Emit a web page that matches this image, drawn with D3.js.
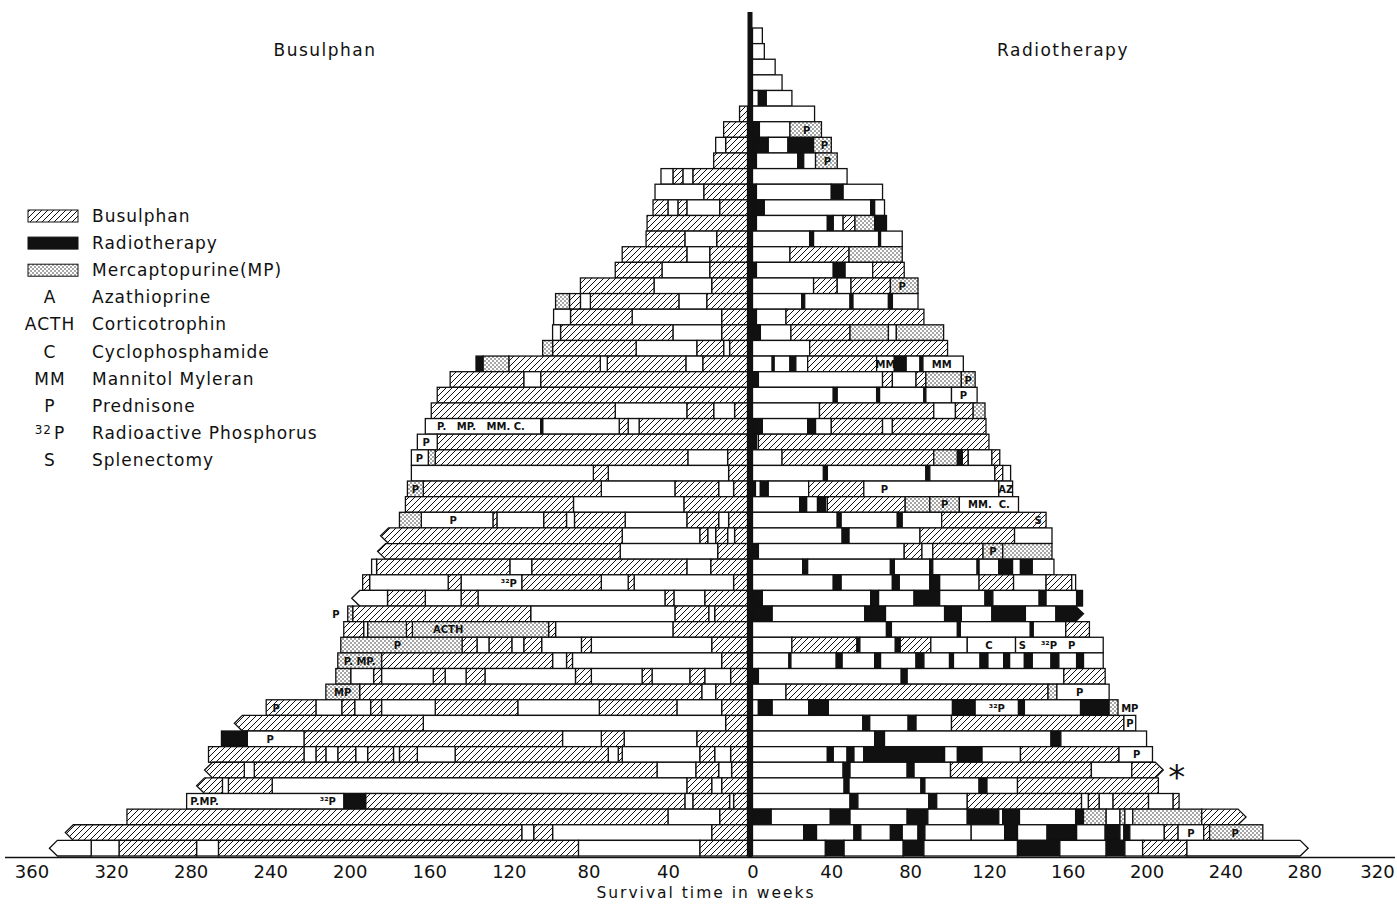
<!DOCTYPE html>
<html><head><meta charset="utf-8">
<script src="https://cdn.jsdelivr.net/npm/d3@7"></script>
<style>body{margin:0;background:#fff}svg{display:block}</style>
</head><body><svg id="c" width="1397" height="904"></svg>
<script>
const rowCount = 53;
const rightTicks = [0,40,80,120,160,200,240,280,320];
const leftTicks = [40,80,120,160,200,240,280,320,360];
// segment types: B busulphan, R radiotherapy, M mercaptopurine, W untreated; [type, end week]
const rightRows = [
 [["W",5]],
 [["W",6]],
 [["W",11.5]],
 [["W",15]],
 [["W",3],["R",7],["W",20]],
 [["W",31.5]],
 [["R",3.5],["W",19],["M",35]],
 [["R",8],["W",18],["R",31],["M",40]],
 [["R",2],["W",23],["R",26],["W",32],["M",43]],
 [["W",48]],
 [["R",2],["W",40],["R",46],["W",66]],
 [["R",6],["W",60],["R",62],["W",67]],
 [["R",2],["W",38],["R",41],["W",46],["B",52],["M",62],["R",68]],
 [["W",29],["R",31],["W",64],["R",65],["W",76]],
 [["W",19],["B",49],["M",76]],
 [["R",2],["W",41],["R",47],["W",61],["B",77]],
 [["W",31],["B",43],["W",50],["B",70],["M",84]],
 [["W",25],["R",26.5],["W",49.5],["R",51],["W",69],["R",71],["W",84]],
 [["R",2],["W",17],["B",87]],
 [["R",4],["W",19.5],["B",49.5],["M",69],["W",73],["M",97]],
 [["W",29],["B",99]],
 [["W",10],["R",11],["W",19],["R",22],["W",28],["B",63],["W",72],["R",78],["W",85],["R",86.5],["W",107]],
 [["R",3],["W",66],["B",71],["W",83],["B",88],["M",106],["M",113]],
 [["W",41],["R",43],["W",63],["R",64.5],["W",87],["R",88],["W",101],["W",114]],
 [["W",34],["B",92],["W",103],["B",112],["M",118]],
 [["R",5],["W",28],["R",32],["W",40],["B",66],["W",71],["B",118.5]],
 [["R",2],["W",3],["B",120]],
 [["W",15],["B",92],["M",104],["R",106.5],["B",109.5],["W",121.5],["B",125.5]],
 [["W",36],["R",38],["W",88],["R",90],["W",123],["B",127],["W",131]],
 [["R",1.5],["W",4],["R",8],["W",28.5],["B",56.5],["W",125],["W",132]],
 [["W",24],["R",27.5],["W",33],["R",37],["W",38],["B",77.5],["M",90],["M",105],["W",135]],
 [["W",43],["R",45],["W",73.5],["R",76],["W",96],["B",149]],
 [["W",45.5],["R",49],["W",85],["B",133],["W",152]],
 [["R",3],["W",77],["B",86],["W",91.5],["B",117],["M",127],["M",152]],
 [["W",25.5],["R",28],["W",70],["R",72],["W",90],["R",91.5],["W",114],["R",115],["W",125],["R",132],["W",136],["R",142],["W",153]],
 [["W",41],["R",45],["W",71],["R",74.5],["W",90],["R",95],["W",115],["B",132.5],["W",149],["B",162],["W",164]],
 [["R",5],["W",60],["R",64],["W",82],["R",95],["W",118],["R",122],["W",145.5],["R",149],["W",164.5],["R",167.5]],
 [["R",10],["W",57],["R",67.5],["W",97.5],["R",106],["W",121.5],["R",138.5],["W",154],["R",168]],
 [["W",68],["R",70.5],["W",104],["R",105.5],["W",141],["R",142.5],["W",159],["B",171]],
 [["W",20],["B",53],["R",54.5],["W",72.5],["R",75],["B",90.5],["W",109],["W",133.5],["W",178]],
 [["W",18.5],["R",19.5],["W",42.5],["R",45.5],["W",62],["R",65],["W",83],["R",87],["W",100],["R",102],["W",115.5],["R",119.5],["W",127.5],["R",130.5],["W",138],["R",142],["W",151.5],["R",155.5],["W",164.5],["R",168],["W",178]],
 [["R",3],["W",75.5],["R",78.5],["W",158],["B",179]],
 [["W",17],["B",150],["M",154.5],["W",181]],
 [["W",3],["R",10],["W",28.5],["R",38.5],["W",101.5],["R",113],["W",135],["R",138],["W",166.5],["R",181],["M",185.5]],
 [["W",56],["R",59.5],["W",79],["R",83],["W",101],["B",188.5],["W",194.5]],
 [["W",62],["R",67],["W",151.5],["R",156.5],["W",200]],
 [["W",38],["R",41],["W",48],["R",51.5],["W",56.5],["R",97.5],["W",104],["R",116.5],["W",136],["B",186],["W",203]],
 [["W",46],["R",49.5],["W",78.5],["R",82],["W",100.5],["B",172],["W",192.5],["B",208.5]],
 [["W",46.5],["R",49],["W",85.5],["R",87.5],["W",115],["R",119],["W",134.5],["B",206]],
 [["W",49.5],["R",53.5],["W",89.5],["R",93.5],["W",109],["B",167],["W",170.5],["B",176],["W",183],["B",201],["W",213.5],["B",216.5]],
 [["R",9.5],["W",39.5],["R",49.5],["W",78.5],["R",89],["W",109],["R",125],["W",127],["R",135.5],["W",164],["R",168],["M",179.5],["W",186.5],["M",189],["W",193],["M",228],["B",250.5]],
 [["W",26],["R",32.5],["W",51.5],["R",55],["W",70],["R",76],["W",84],["R",87.5],["W",111],["W",128],["R",134.5],["W",149.5],["R",164.5],["W",179],["R",186.5],["W",188.5],["R",191.5],["W",209],["B",216],["W",229],["B",232],["M",259]],
 [["W",37],["R",46.5],["W",76.5],["R",87],["W",134.5],["R",156],["W",179.5],["R",189],["W",198],["B",220.5],["W",282]]
];
const leftRows = [
 [],[],[],[],[],
 [["B",4]],
 [["B",12]],
 [["B",11],["W",16]],
 [["B",17]],
 [["B",27.5],["W",32.5],["B",37.5],["W",43.5]],
 [["B",22],["W",46.5]],
 [["B",14],["W",30.5],["B",35],["W",40],["B",47.5]],
 [["B",50.5]],
 [["B",15.5],["W",31.5],["B",51]],
 [["B",19],["W",30.5],["B",63]],
 [["B",19],["W",43],["B",66.5]],
 [["B",18],["W",47],["B",84]],
 [["B",20.5],["W",34.5],["B",79],["W",84],["B",89.5],["M",96.5]],
 [["B",13],["W",58],["B",89],["W",97.5]],
 [["B",13],["W",37.5],["B",94],["W",98]],
 [["B",9],["W",12],["B",25.5],["W",56],["B",98],["M",103]],
 [["B",22.5],["W",31],["B",70.5],["W",74],["B",120],["M",133],["R",136.5]],
 [["B",104],["W",112.5],["B",149.5]],
 [["B",156]],
 [["B",6.5],["W",17],["B",30.5],["W",66.5],["B",159]],
 [["B",54.5],["W",60],["B",64.5],["W",103],["R",104],["W",162]],
 [["B",156],["W",166]],
 [["B",10],["W",30],["B",157],["M",160.5],["W",169]],
 [["B",9.5],["W",70],["B",77.5],["W",169]],
 [["B",7],["W",14.5],["B",36.5],["W",73.5],["B",163],["M",171]],
 [["B",32],["W",87.5],["B",172]],
 [["B",9.5],["W",14.5],["B",30.5],["W",61.5],["B",87],["W",91],["B",102.5],["W",126],["B",128],["W",164],["M",175]],
 [["B",6.5],["W",10],["B",16],["W",20],["B",24],["W",63],["B",184.5]],
 [["B",15],["W",64],["B",186]],
 [["B",18.5],["W",30.5],["B",108.5],["W",119.5],["B",186.5],["W",189]],
 [["B",7],["W",57],["B",60],["W",73.5],["B",113.5],["W",144],["B",150.5],["W",190],["B",193.5]],
 [["B",21.5],["W",37],["B",41.5],["W",135.5],["B",144],["W",162],["B",181],["W",199]],
 [["B",16.5],["W",19.5],["B",36.5],["W",109],["B",198.5],["M",201]],
 [["B",37.5],["W",96.5],["B",100],["M",168.5],["B",171.5],["M",191],["W",193],["B",203]],
 [["B",18],["W",78.5],["B",83.5],["W",103.5],["B",112.5],["W",118.5],["B",130],["W",136],["B",143.5],["M",204.5]],
 [["B",13],["W",88],["B",91],["W",98],["B",184],["M",206]],
 [["B",8.5],["W",21.5],["B",29],["W",48],["B",53],["W",78.5],["B",86.5],["W",132],["B",141.5],["W",152],["B",158],["W",184],["B",188],["W",199.5],["M",207]],
 [["B",16],["W",23],["B",195],["M",212]],
 [["B",13],["W",35.5],["B",74.5],["W",115.5],["B",157],["W",184],["B",189.5],["W",197.5],["B",204],["W",217],["B",242]],
 [["B",11],["W",163],["B",258]],
 [["B",25.5],["W",62],["B",73.5],["W",93],["B",223],["W",251.5],["R",264.5]],
 [["B",8.5],["W",16.5],["B",24],["W",63],["B",65],["W",70],["B",147],["W",166],["B",175],["W",178],["B",191],["W",197],["B",206],["W",212],["B",217],["W",223],["B",271]],
 [["B",8],["W",14.5],["B",26],["W",45.5],["B",248],["W",253],["B",273]],
 [["B",13],["W",18],["B",30.5],["W",239],["B",261],["W",264],["B",277]],
 [["B",7],["W",9],["B",27.5],["W",31.5],["B",192],["R",203],["W",282]],
 [["B",14],["W",40],["B",312]],
 [["B",18],["W",98],["B",107.5],["W",113.5],["B",343]],
 [["B",24],["W",85],["B",266],["W",277],["B",316],["W",330],["W",351]]
];
const rightArrows = [37,47,50,52];
const leftArrows = [32,33,36,44,47,48,51,52];
const rightLabels = [
 [6,27.5,"P"],[7,36.5,"P"],[8,38,"P"],[16,76,"P"],[21,67.5,"MM"],[21,96,"MM"],[22,109.5,"P"],
 [23,107,"P"],[29,67,"P"],[29,128.5,"AZ"],[30,97.5,"P"],[30,120,"MM.  C."],[31,145,"S"],
 [33,122,"P"],[39,120,"C"],[39,137,"S"],[39,150.5,"³²P"],[39,162,"P"],[42,166,"P"],
 [43,124,"³²P"],[43,191.5,"MP"],[44,191.5,"P"],[46,195,"P"],[51,222.5,"P"],[51,245,"P"]
];
const leftLabels = [
 [25,134,"P.   MP.   MM. C."],[26,161.5,"P"],[27,165,"P"],[29,167,"P"],[31,148,"P"],
 [35,120,"³²P"],[37,207,"P"],[38,150.5,"ACTH"],[39,176,"P"],[40,195,"P. MP."],
 [42,203.5,"MP"],[43,237,"P"],[45,240,"P"],[49,273,"P.MP."],[49,211,"³²P"]
];
const legendSwatches = [["B","Busulphan"],["R","Radiotherapy"],["M","Mercaptopurine(MP)"]];
const legendSymbols = [["A","Azathioprine"],["ACTH","Corticotrophin"],["C","Cyclophosphamide"],
 ["MM","Mannitol Myleran"],["P","Prednisone"],["32|P","Radioactive Phosphorus"],["S","Splenectomy"]];
const sideTitles = [["Busulphan",325],["Radiotherapy",1063]];

const svg = d3.select("#c");
const INK = "#111";
const defs = svg.append("defs");
const hatch = defs.append("pattern").attr("id","hatch").attr("patternUnits","userSpaceOnUse")
  .attr("width",6).attr("height",6);
hatch.append("rect").attr("width",6).attr("height",6).attr("fill","#fff");
hatch.append("path").attr("d","M-1,1 L1,-1 M0,6 L6,0 M5,7 L7,5").attr("stroke",INK).attr("stroke-width",1);
const dots = defs.append("pattern").attr("id","dots").attr("patternUnits","userSpaceOnUse")
  .attr("width",4).attr("height",4);
dots.append("rect").attr("width",4).attr("height",4).attr("fill","#fff");
dots.append("circle").attr("cx",1).attr("cy",1).attr("r",0.75).attr("fill","#222");
dots.append("circle").attr("cx",3).attr("cy",3).attr("r",0.75).attr("fill","#222");
const fillOf = t => t==="B" ? "url(#hatch)" : t==="R" ? INK : t==="M" ? "url(#dots)" : "#fff";

const xR = d3.scaleLinear().domain([0,320]).range([752.5,1383]);
const xL = d3.scaleLinear().domain([0,360]).range([747.5,31.5]);
const y = d3.scaleBand().domain(d3.range(rowCount)).range([28,856]).padding(0);

function drawSide(rows, arrows, scale, dir) {
  const g = svg.append("g");
  rows.forEach((segs, r) => {
    let start = 0;
    const y0 = y(r), h = y.bandwidth();
    segs.forEach(([t,end], i) => {
      const xa = scale(start), xb = scale(end);
      const last = i === segs.length - 1;
      if (last && arrows.includes(r)) {
        const a = 8*dir;
        g.append("path")
          .attr("d",`M${xa},${y0}L${xb-a},${y0}L${xb},${y0+h/2}L${xb-a},${y0+h}L${xa},${y0+h}Z`)
          .attr("fill",fillOf(t)).attr("stroke",INK).attr("stroke-width",1.3).attr("stroke-linejoin","miter");
      } else {
        g.append("rect").attr("x",Math.min(xa,xb)).attr("y",y0)
          .attr("width",Math.abs(xb-xa)).attr("height",h)
          .attr("fill",fillOf(t)).attr("stroke",INK).attr("stroke-width",1.3);
      }
      start = end;
    });
  });
}
drawSide(rightRows, rightArrows, xR, 1);
drawSide(leftRows, leftArrows, xL, -1);

function drawLabels(labels, scale) {
  svg.append("g").selectAll("text").data(labels).join("text")
    .attr("x", d => scale(d[1])).attr("y", d => y(d[0]) + y.bandwidth()/2 + 4)
    .attr("text-anchor","middle").style("white-space","pre")
    .attr("font-family","'DejaVu Sans', sans-serif").attr("font-size",10).attr("font-weight","bold")
    .attr("fill",INK).text(d => d[2]);
}
drawLabels(rightLabels, xR);
drawLabels(leftLabels, xL);

// centre line
svg.append("rect").attr("x",xL(0)).attr("y",12).attr("width",xR(0)-xL(0)).attr("height",846).attr("fill",INK);

// asterisk after survivor
svg.append("text").attr("x",xR(208.5)+5).attr("y",y(47)+y.bandwidth()/2+19)
  .attr("font-family","'DejaVu Sans', sans-serif").attr("font-size",34).attr("fill",INK).text("*");

// axis
svg.append("line").attr("x1",5).attr("x2",1395).attr("y1",857.5).attr("y2",857.5)
  .attr("stroke",INK).attr("stroke-width",1.3);
const axisFont = g => g.call(s => s.select(".domain").remove())
  .selectAll("text").attr("font-family","'DejaVu Sans', sans-serif").attr("font-size",18)
  .attr("fill",INK);
svg.append("g").attr("transform","translate(0,858)")
  .call(d3.axisBottom(xR).tickValues(rightTicks).tickSize(0).tickPadding(7).tickFormat(d3.format("d")))
  .call(axisFont)
  .call(g => g.selectAll(".tick text").filter(d => d === 320).attr("x",-6));
svg.append("g").attr("transform","translate(0,858)")
  .call(d3.axisBottom(xL).tickValues(leftTicks).tickSize(0).tickPadding(7).tickFormat(d3.format("d")))
  .call(axisFont);
svg.append("text").attr("x",706).attr("y",898).attr("text-anchor","middle")
  .attr("font-family","'DejaVu Sans', sans-serif").attr("font-size",15.5).attr("letter-spacing","2px")
  .attr("fill",INK).text("Survival time in weeks");

// titles
svg.selectAll("text.title").data(sideTitles).join("text").attr("class","title")
  .attr("x",d=>d[1]).attr("y",56).attr("text-anchor","middle")
  .attr("font-family","'DejaVu Sans', sans-serif").attr("font-size",17).attr("letter-spacing","1.5px")
  .attr("fill",INK).text(d=>d[0]);

// legend
const lg = svg.append("g");
const rowY = i => 216 + i*27.1;
legendSwatches.forEach(([t,name],i) => {
  lg.append("rect").attr("x",28).attr("y",rowY(i)-6).attr("width",50).attr("height",12)
    .attr("fill",fillOf(t)).attr("stroke",INK).attr("stroke-width",1);
  lg.append("text").attr("x",92).attr("y",rowY(i)+6).text(name);
});
legendSymbols.forEach(([s,name],j) => {
  const i = j + legendSwatches.length;
  const sym = lg.append("text").attr("x",50).attr("y",rowY(i)+6).attr("text-anchor","middle");
  if (s.includes("|")) {
    const [sup, base] = s.split("|");
    sym.append("tspan").attr("font-size",12).attr("dy",-5).text(sup);
    sym.append("tspan").attr("dx",2).attr("dy",5).text(base);
  } else sym.text(s);
  lg.append("text").attr("x",92).attr("y",rowY(i)+6).text(name);
});
lg.selectAll("text").attr("font-family","'DejaVu Sans', sans-serif").attr("font-size",17)
  .attr("letter-spacing","1px").attr("fill",INK);
</script></body></html>
